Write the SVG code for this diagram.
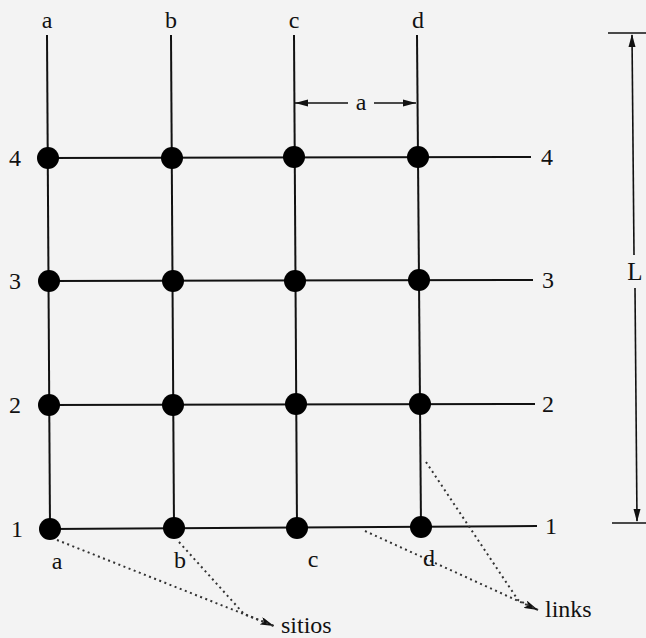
<svg xmlns="http://www.w3.org/2000/svg" width="646" height="638" viewBox="0 0 646 638">
<style>
.ln{stroke:#111;stroke-width:2;fill:none;stroke-linecap:butt}
.dl{stroke:#333;stroke-width:2;fill:none;stroke-dasharray:2 3.5}
.dim{stroke:#111;stroke-width:1.6;fill:none}
.nd{fill:#000}
.t{font-family:"Liberation Serif","Times New Roman",serif;font-size:24px;fill:#111}
.m{text-anchor:middle}
</style>
<defs>
<marker id="ah" viewBox="0 0 14 8" refX="14" refY="4" markerWidth="14" markerHeight="8" markerUnits="userSpaceOnUse" orient="auto">
<path d="M0,0 L14,4 L0,8 L3,4 z" fill="#111"/>
</marker>
</defs>
<rect width="646" height="638" fill="#f3f3f3"/>
<g id="connectors">
<line class="ln" x1="47" y1="35" x2="50" y2="529"/>
<line class="ln" x1="171" y1="35" x2="174" y2="528"/>
<line class="ln" x1="294" y1="35" x2="297" y2="528"/>
<line class="ln" x1="417" y1="35" x2="421" y2="527"/>
<line class="ln" x1="48" y1="158" x2="531" y2="157"/>
<line class="ln" x1="49" y1="281" x2="533" y2="280"/>
<line class="ln" x1="49" y1="405" x2="535" y2="404"/>
<line class="ln" x1="50" y1="529" x2="537" y2="526"/>
<line class="dl" x1="57" y1="540" x2="274" y2="626" marker-end="url(#ah)"/>
<polyline class="dl" points="179,542 244,614 274,626"/>
<line class="dl" x1="365" y1="531" x2="538" y2="610" marker-end="url(#ah)"/>
<polyline class="dl" points="426,462 518,600 538,610"/>
</g>
<g id="dimension-a">
<line class="dim" x1="295" y1="103" x2="348" y2="103"/>
<line class="dim" x1="374" y1="103" x2="416" y2="103"/>
<path d="M295,103 L308,99.5 L308,106.5 z" fill="#111"/>
<path d="M416,103 L403,99.5 L403,106.5 z" fill="#111"/>
<text class="t m" x="361" y="110">a</text>
</g>
<g id="dimension-L">
<line class="dim" x1="608" y1="33" x2="646" y2="33"/>
<line class="dim" x1="612" y1="523" x2="646" y2="523"/>
<line class="dim" x1="632" y1="35" x2="634" y2="255"/>
<line class="dim" x1="635" y1="288" x2="637" y2="521"/>
<path d="M632,34 L628.5,47 L635.5,47 z" fill="#111"/>
<path d="M637,522 L633.5,509 L640.5,509 z" fill="#111"/>
<text class="t m" x="635" y="280" style="font-size:25px">L</text>
</g>
<g id="node-a4"><circle class="nd" cx="48" cy="158" r="11"/></g>
<g id="node-b4"><circle class="nd" cx="172" cy="158" r="11"/></g>
<g id="node-c4"><circle class="nd" cx="294" cy="157" r="11"/></g>
<g id="node-d4"><circle class="nd" cx="418" cy="157" r="11"/></g>
<g id="node-a3"><circle class="nd" cx="49" cy="281" r="11"/></g>
<g id="node-b3"><circle class="nd" cx="173" cy="281" r="11"/></g>
<g id="node-c3"><circle class="nd" cx="295" cy="281" r="11"/></g>
<g id="node-d3"><circle class="nd" cx="419" cy="280" r="11"/></g>
<g id="node-a2"><circle class="nd" cx="49" cy="405" r="11"/></g>
<g id="node-b2"><circle class="nd" cx="173" cy="405" r="11"/></g>
<g id="node-c2"><circle class="nd" cx="296" cy="404" r="11"/></g>
<g id="node-d2"><circle class="nd" cx="420" cy="404" r="11"/></g>
<g id="node-a1"><circle class="nd" cx="50" cy="529" r="11"/></g>
<g id="node-b1"><circle class="nd" cx="174" cy="528" r="11"/></g>
<g id="node-c1"><circle class="nd" cx="297" cy="528" r="11"/></g>
<g id="node-d1"><circle class="nd" cx="421" cy="527" r="11"/></g>
<g id="labels">
<text class="t m" x="47" y="28">a</text>
<text class="t m" x="171" y="28">b</text>
<text class="t m" x="294" y="28">c</text>
<text class="t m" x="418" y="28">d</text>
<text class="t m" x="15" y="166">4</text>
<text class="t m" x="15" y="289">3</text>
<text class="t m" x="15" y="413">2</text>
<text class="t m" x="17" y="537">1</text>
<text class="t" x="541" y="165">4</text>
<text class="t" x="542" y="288">3</text>
<text class="t" x="542" y="412">2</text>
<text class="t" x="545" y="534">1</text>
<text class="t m" x="57" y="569">a</text>
<text class="t m" x="180" y="568">b</text>
<text class="t m" x="313" y="567">c</text>
<text class="t m" x="429" y="566">d</text>
<text class="t" x="281" y="633">sitios</text>
<text class="t" x="545" y="617">links</text>
</g>
</svg>
